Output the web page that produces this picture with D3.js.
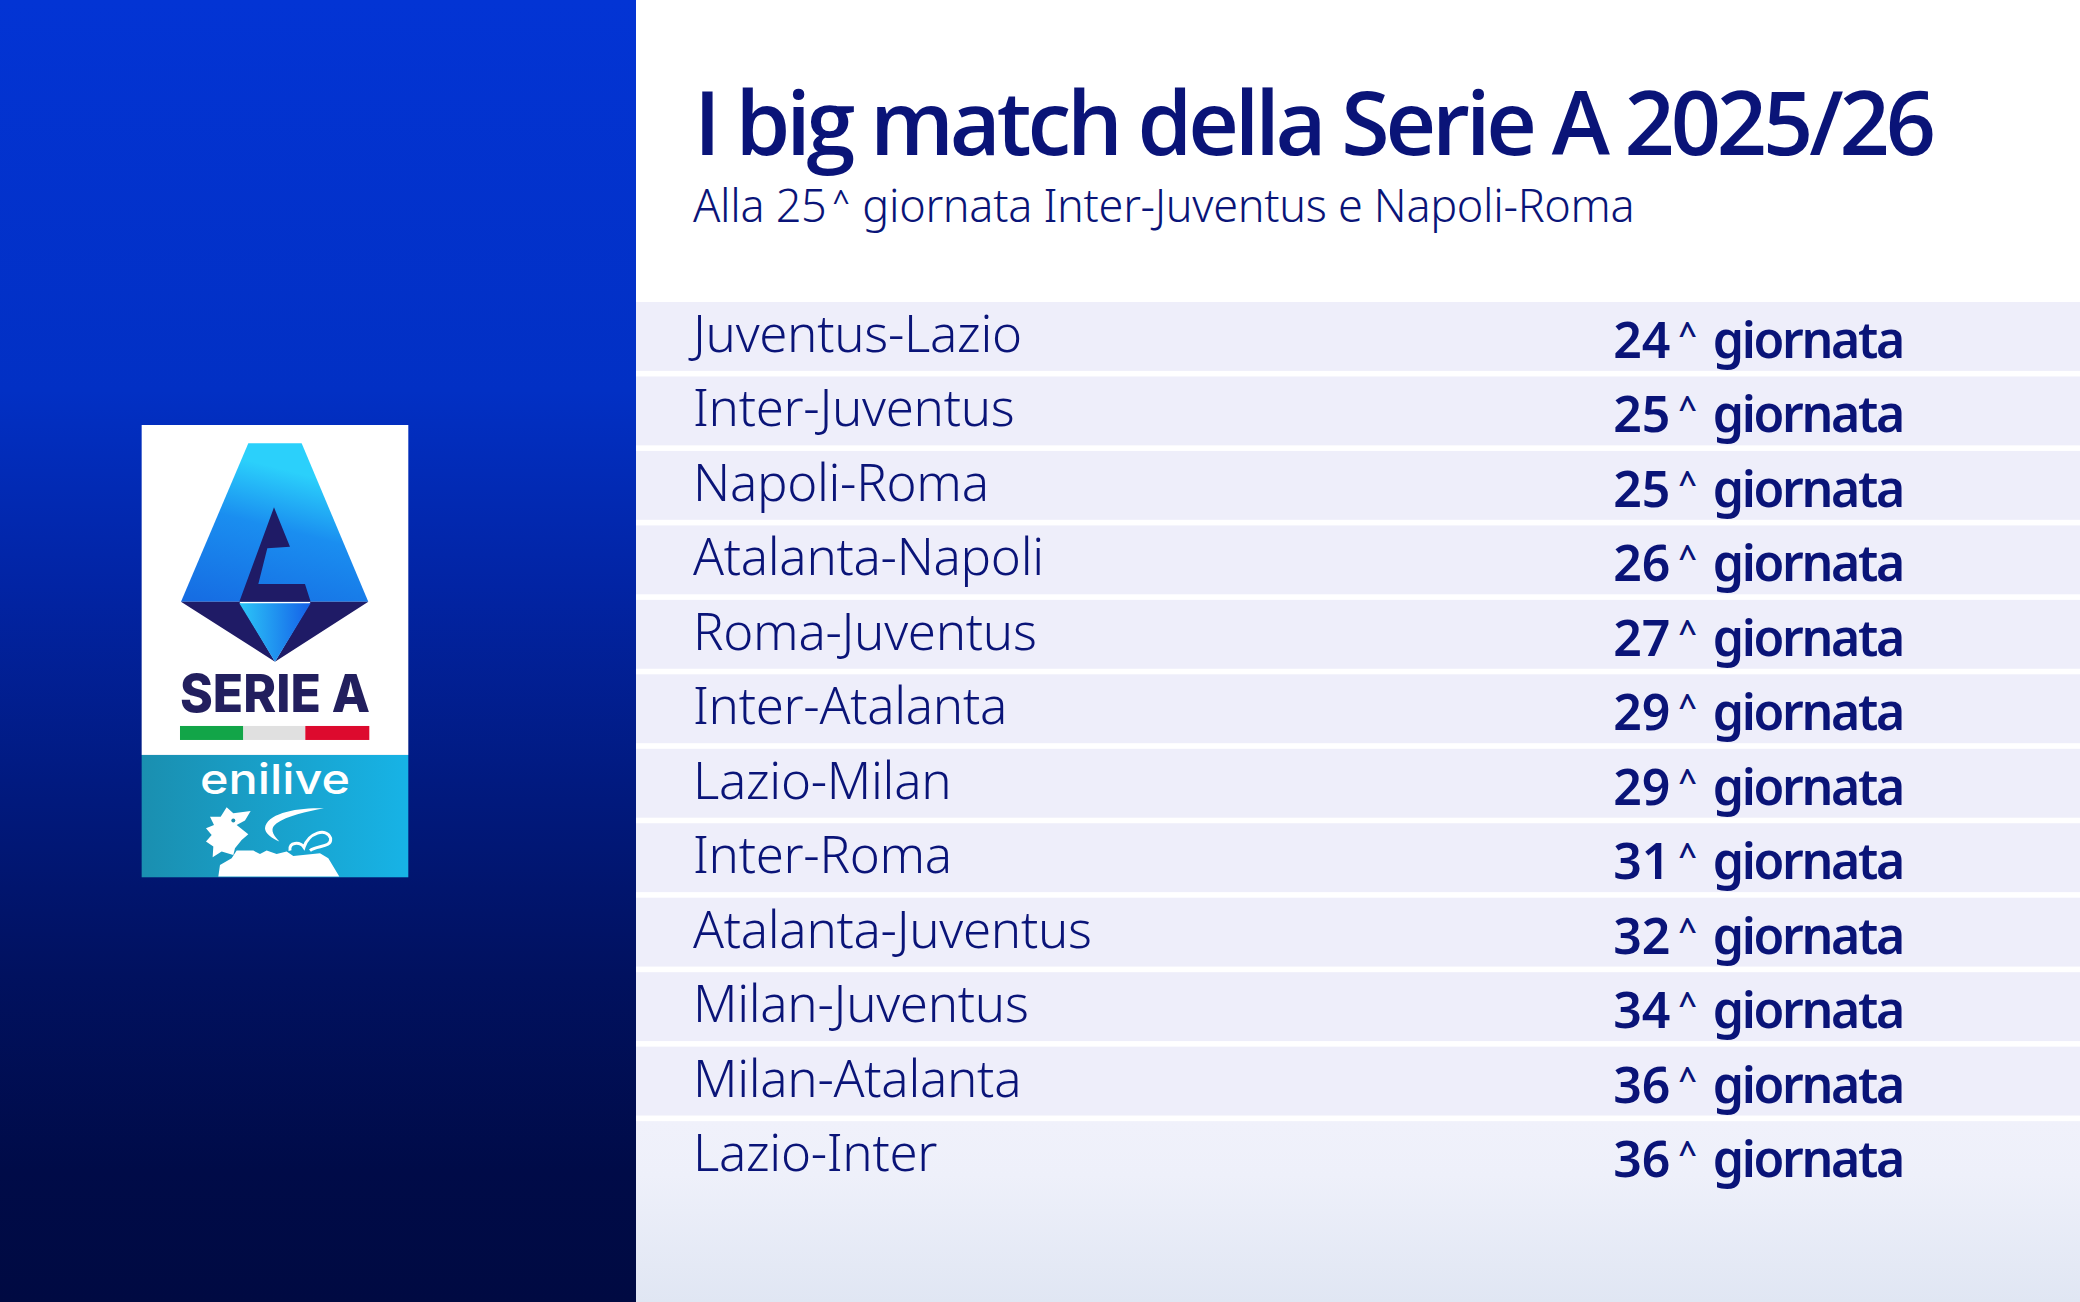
<!DOCTYPE html>
<html>
<head>
<meta charset="utf-8">
<script src="https://cdn.jsdelivr.net/npm/d3@7"></script>
<style>
  html, body { margin: 0; padding: 0; background: #fff; }
  svg { display: block; }
  text { font-family: "Noto Sans", sans-serif; }
</style>
</head>
<body>
<svg id="chart" width="2080" height="1302"></svg>
<script>
// Table data
const titleText = 'I big match della Serie A 2025/26';
const subtitleBefore = 'Alla 25';
const subtitleAfter = 'giornata Inter-Juventus e Napoli-Roma';
const matches = ['Juventus-Lazio', 'Inter-Juventus', 'Napoli-Roma', 'Atalanta-Napoli', 'Roma-Juventus', 'Inter-Atalanta',
  'Lazio-Milan', 'Inter-Roma', 'Atalanta-Juventus', 'Milan-Juventus', 'Milan-Atalanta', 'Lazio-Inter'];
const rounds = [24, 25, 25, 26, 27, 29, 29, 31, 32, 34, 36, 36];

const width = 2080, height = 1302;
const panelX = 636;
const navy = '#0a1478';
const svg = d3.select('#chart');
const defs = svg.append('defs');

// Small helper for linear gradients
function gradient(id, stops, x2, y2) {
  const g = defs.append('linearGradient').attr('id', id)
    .attr('x1', 0).attr('y1', 0).attr('x2', x2).attr('y2', y2);
  stops.forEach(s => g.append('stop').attr('offset', s[0]).attr('stop-color', s[1]));
}
gradient('sideBg', [[0, '#0334d4'], [0.3, '#0230c4'], [0.45, '#0224a4'], [0.6, '#011a80'], [0.75, '#01115f'], [0.9, '#000b48'], [1, '#000a42']], 0, 1);
gradient('bottomBg', [[0, '#f0f1fb'], [0.3, '#eef0fa'], [1, '#e0e6f3']], 0, 1);
gradient('logoBlue', [[0, '#2bd0fb'], [0.35, '#1a8ef0'], [1, '#1566e0']], -0.3, 1);
gradient('logoGem', [[0, '#2cc6f8'], [1, '#1460e8']], 1, 0);
gradient('logoTeal', [[0, '#1a8fb0'], [1, '#17b3e6']], 1, 0);

// Left panel
svg.append('rect').attr('width', panelX).attr('height', height).attr('fill', 'url(#sideBg)');

// Row positions come from a band scale
const y = d3.scaleBand().domain(d3.range(matches.length)).range([302, 1190]).paddingInner(0.075).paddingOuter(0);

svg.append('g').selectAll('rect').data(matches.slice(0, -1)).join('rect')
  .attr('x', panelX).attr('y', (d, i) => y(i))
  .attr('width', width - panelX).attr('height', y.bandwidth())
  .attr('fill', '#eeeefa');

// Last row runs off the bottom of the page
svg.append('rect').attr('x', panelX).attr('y', y(matches.length - 1))
  .attr('width', width - panelX).attr('height', height - y(matches.length - 1))
  .attr('fill', 'url(#bottomBg)');

// Small raised caret used after the round numbers
function addCaret(sel, size, lift, gap, weight) {
  sel.append('tspan').attr('font-size', size).attr('font-weight', weight).attr('dy', -lift).attr('dx', gap).text('^');
}

// Title block
svg.append('text').attr('x', 694).attr('y', 155)
  .style('font-family', '"Open Sans", sans-serif')
  .attr('font-size', 88).attr('font-weight', 600)
  .attr('textLength', 1242).attr('lengthAdjust', 'spacing')
  .attr('fill', navy).text(titleText);

const sub = svg.append('text').attr('x', 693).attr('y', 222)
  .attr('font-size', 45).attr('font-weight', 300).attr('letter-spacing', -0.3)
  .attr('fill', navy);
sub.append('tspan').text(subtitleBefore);
addCaret(sub, 30, 10, 6, 400);
sub.append('tspan').attr('dy', 10).attr('dx', 13).text(subtitleAfter);

// Rows
svg.append('g').selectAll('text').data(matches).join('text')
  .attr('x', 693).attr('y', (d, i) => y(i) + 50)
  .attr('font-size', 51).attr('font-weight', 300).attr('letter-spacing', -0.3)
  .attr('fill', navy).text(d => d);

svg.append('g').selectAll('text').data(rounds).join('text')
  .attr('x', 1903).attr('y', (d, i) => y(i) + 56)
  .attr('text-anchor', 'end')
  .attr('font-size', 50).attr('font-weight', 600)
  .attr('fill', navy)
  .each(function (d) {
    const t = d3.select(this);
    t.append('tspan').attr('letter-spacing', 0).text(d);
    addCaret(t, 32, 13, 8, 600);
    t.append('tspan').attr('dy', 13).attr('dx', 16).attr('letter-spacing', -2.3).text('giornata');
  });

// Serie A logo, drawn in the 3x coordinates of the crop
const logo = svg.append('g').attr('transform', 'translate(120,400) scale(0.3333)');
logo.append('rect').attr('x', 65).attr('y', 75).attr('width', 800).attr('height', 990).attr('fill', '#fff');
logo.append('rect').attr('x', 65).attr('y', 1065).attr('width', 800).attr('height', 367).attr('fill', 'url(#logoTeal)');
logo.append('path').attr('d', 'M385,130 L545,130 L745,605 L183,605 Z').attr('fill', 'url(#logoBlue)');
logo.append('path').attr('d', 'M183,605 L358,605 L465,785 Z M745,605 L572,605 L465,785 Z').attr('fill', '#1f1b66');
logo.append('path').attr('d', 'M358,610 L572,610 L465,785 Z').attr('fill', 'url(#logoGem)');
logo.append('path').attr('d', 'M462,322 L510,440 L442,445 L415,552 L555,552 L572,605 L358,605 Z').attr('fill', '#1f1b66');
logo.append('text').attr('x', 180).attr('y', 935)
  .style('font-family', 'Inter, sans-serif')
  .attr('font-size', 158).attr('font-weight', 800).attr('fill', '#221f5e')
  .attr('textLength', 570).attr('lengthAdjust', 'spacingAndGlyphs').text('SERIE A');
logo.append('rect').attr('x', 180).attr('y', 978).attr('width', 190).attr('height', 42).attr('fill', '#12a548');
logo.append('rect').attr('x', 370).attr('y', 978).attr('width', 186).attr('height', 42).attr('fill', '#e0e0e0');
logo.append('rect').attr('x', 556).attr('y', 978).attr('width', 192).attr('height', 42).attr('fill', '#dd0a2e');
logo.append('text').attr('x', 240).attr('y', 1183)
  .style('font-family', 'Inter, sans-serif')
  .attr('font-size', 125).attr('font-weight', 500).attr('fill', '#fff')
  .attr('textLength', 450).attr('lengthAdjust', 'spacingAndGlyphs').text('enilive');
// Lion mark
logo.append('path')
  .attr('d', 'M320,1222 L340,1240 L392,1233 L375,1262 L350,1275 L385,1303 L365,1320 L345,1345 L340,1365 L305,1355 L278,1372 L280,1340 L258,1325 L275,1305 L258,1285 L282,1275 L270,1250 L302,1250 Z')
  .attr('fill', '#fff');
logo.append('circle').attr('cx', 340).attr('cy', 1262).attr('r', 6).attr('fill', '#1a8fb0');
logo.append('path')
  .attr('d', 'M295,1430 L300,1395 L335,1375 L350,1352 L400,1352 L420,1362 L440,1352 L470,1362 L500,1355 L520,1368 L600,1360 L625,1375 L658,1430 Z')
  .attr('fill', '#fff');
logo.append('path')
  .attr('d', 'M612,1225 C530,1222 440,1240 435,1285 C435,1300 455,1315 478,1325 C455,1300 450,1285 470,1270 C500,1248 560,1235 612,1225 Z')
  .attr('fill', '#fff');
logo.append('path').attr('d', 'M510,1352 C505,1325 540,1325 552,1342 C565,1300 620,1280 632,1315 C635,1345 590,1335 570,1352')
  .attr('fill', 'none').attr('stroke', '#fff').attr('stroke-width', 9);
</script>
</body>
</html>
